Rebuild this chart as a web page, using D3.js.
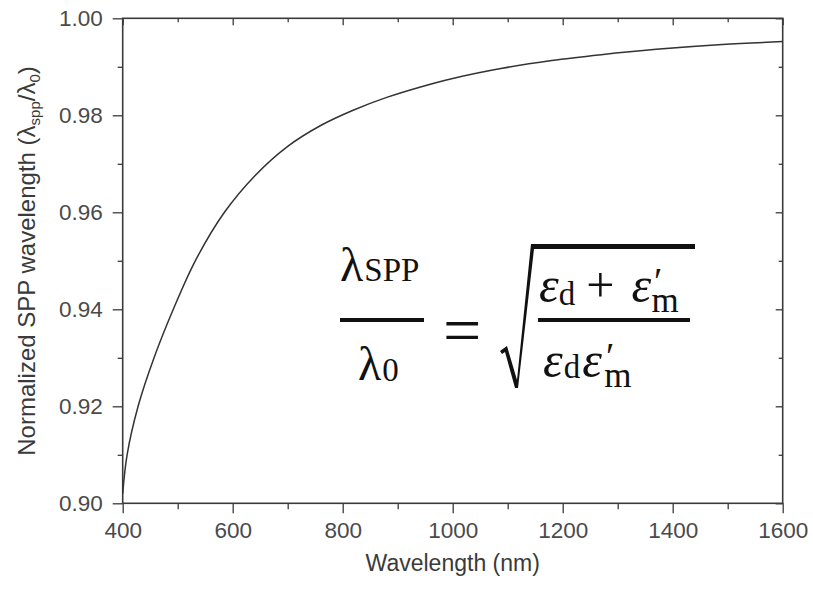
<!DOCTYPE html>
<html>
<head>
<meta charset="utf-8">
<script src="https://cdn.jsdelivr.net/npm/d3@7"></script>
<style>
  body { margin: 0; background: #fff; }
  svg { display: block; }
</style>
</head>
<body>
<div id="chart"></div>
<script>
(function() {
  'use strict';

  // points
  var wavelengths = [400, 408, 428, 457, 492, 532, 585, 640, 700, 760, 820, 880,
                     940, 1000, 1090, 1180, 1270, 1370, 1490, 1600];
  var ratios = [0.902, 0.910, 0.920, 0.930, 0.940, 0.950, 0.960, 0.9675, 0.9736,
                0.9779, 0.9811, 0.9837, 0.9858, 0.9876, 0.9897, 0.9913, 0.9925,
                0.9936, 0.9946, 0.9952];

  var xMajor = [400, 600, 800, 1000, 1200, 1400, 1600];
  var xMinor = [500, 700, 900, 1100, 1300, 1500];
  var yMajor = [0.90, 0.92, 0.94, 0.96, 0.98, 1.00];
  var yMinor = [0.91, 0.93, 0.95, 0.97, 0.99];

  var width = 813, height = 590;
  var margin = {top: 18.3, right: 30.3, bottom: 86.7, left: 122.7};
  var w = width - margin.left - margin.right;
  var h = height - margin.top - margin.bottom;

  var svg = d3.select('#chart')
      .append('svg')
    .attr('width', width)
    .attr('height', height);

  var g = svg.append('g')
    .attr('transform', 'translate(' + margin.left + ',' + margin.top + ')');

  var x = d3.scaleLinear().domain([400, 1600]).range([0, w]);
  var y = d3.scaleLinear().domain([0.90, 1.00]).range([h, 0]);

  var axisColor = '#3a3a3a';
  var labelColor = '#4a4a4a';
  var fontFamily = '"Liberation Sans", Arial, Helvetica, sans-serif';

  function styleAxis(sel) {
    sel.select('.domain').remove();
    sel.selectAll('.tick line').attr('stroke', axisColor).attr('stroke-width', 1.3);
    sel.selectAll('.tick text')
      .attr('fill', labelColor)
      .style('font-family', fontFamily)
      .style('font-size', '22.5px');
  }

  // bottom axis, outward ticks
  g.append('g')
    .attr('transform', 'translate(0,' + h + ')')
    .call(d3.axisBottom(x).tickValues(xMajor).tickSize(10).tickPadding(9)
      .tickFormat(d3.format('d')))
    .call(styleAxis);
  g.append('g')
    .attr('transform', 'translate(0,' + h + ')')
    .call(d3.axisBottom(x).tickValues(xMinor).tickSize(6).tickFormat(''))
    .call(styleAxis);

  // left axis
  g.append('g')
    .call(d3.axisLeft(y).tickValues(yMajor).tickSize(10).tickPadding(10)
      .tickFormat(d3.format('.2f')))
    .call(styleAxis);
  g.append('g')
    .call(d3.axisLeft(y).tickValues(yMinor).tickSize(5).tickFormat(''))
    .call(styleAxis);

  // top and right mirror ticks pointing inward
  g.append('g')
    .call(d3.axisBottom(x).tickValues(xMajor).tickSize(7).tickFormat(''))
    .call(styleAxis);
  g.append('g')
    .call(d3.axisBottom(x).tickValues(xMinor).tickSize(4).tickFormat(''))
    .call(styleAxis);
  g.append('g')
    .attr('transform', 'translate(' + w + ',0)')
    .call(d3.axisLeft(y).tickValues(yMajor).tickSize(7).tickFormat(''))
    .call(styleAxis);
  g.append('g')
    .attr('transform', 'translate(' + w + ',0)')
    .call(d3.axisLeft(y).tickValues(yMinor).tickSize(4).tickFormat(''))
    .call(styleAxis);

  // frame
  g.append('rect')
    .attr('width', w)
    .attr('height', h)
    .attr('fill', 'none')
    .attr('stroke', axisColor)
    .attr('stroke-width', 1.6);

  // curve
  var line = d3.line()
    .x(function(d) { return x(d[0]); })
    .y(function(d) { return y(d[1]); })
    .curve(d3.curveCatmullRom.alpha(0.5));

  g.append('path')
    .datum(d3.zip(wavelengths, ratios))
    .attr('fill', 'none')
    .attr('stroke', '#333')
    .attr('stroke-width', 1.5)
    .attr('d', line);

  // axis titles
  svg.append('text')
    .attr('x', margin.left + w / 2)
    .attr('y', 571)
    .attr('text-anchor', 'middle')
    .attr('fill', '#3a3a3a')
    .style('font-family', fontFamily)
    .style('font-size', '23px')
    .text('Wavelength (nm)');

  var yt = svg.append('text')
    .attr('transform', 'translate(35,' + 261 + ') rotate(-90)')
    .attr('text-anchor', 'middle')
    .attr('fill', '#3a3a3a')
    .style('font-family', fontFamily)
    .style('font-size', '24px');
  yt.append('tspan').text('Normalized SPP wavelength (λ');
  yt.append('tspan').attr('dy', 5).style('font-size', '15px').text('spp');
  yt.append('tspan').attr('dy', -5).text('/λ');
  yt.append('tspan').attr('dy', 5).style('font-size', '15px').text('0');
  yt.append('tspan').attr('dy', -5).text(')');

  // formula
  var serif = '"Liberation Serif", "Times New Roman", serif';
  var f = svg.append('g')
    .attr('fill', '#111')
    .style('font-family', serif);

  var num = f.append('text').attr('x', 340).attr('y', 281).style('font-size', '48px');
  num.append('tspan').text('λ');
  num.append('tspan').attr('dx', 1).style('font-size', '33px').text('SPP');

  var den = f.append('text').attr('x', 358).attr('y', 380).style('font-size', '48px');
  den.append('tspan').text('λ');
  den.append('tspan').attr('dx', 1).attr('dy', 1).style('font-size', '33px').text('0');

  f.append('text').attr('x', 443).attr('y', 353)
    .style('font-size', '68px').text('=');

  var rn = f.append('text').attr('x', 539).attr('y', 302).style('font-size', '50px');
  rn.append('tspan').style('font-style', 'italic').text('ε');
  rn.append('tspan').attr('dy', 3).style('font-size', '33px').text('d');
  rn.append('tspan').attr('dx', 11).attr('dy', -3).text('+');
  rn.append('tspan').attr('dx', 17).style('font-style', 'italic').text('ε');
  rn.append('tspan').attr('dx', 3).attr('dy', -8).style('font-size', '38px').text('′');
  rn.append('tspan').attr('dx', -11).attr('dy', 18).style('font-size', '35px').text('m');

  var rd = f.append('text').attr('x', 543).attr('y', 377).style('font-size', '50px');
  rd.append('tspan').style('font-style', 'italic').text('ε');
  rd.append('tspan').attr('dx', 1).attr('dy', 1).style('font-size', '33px').text('d');
  rd.append('tspan').attr('dx', 2).attr('dy', -1).style('font-style', 'italic').text('ε');
  rd.append('tspan').attr('dx', 4).attr('dy', -8).style('font-size', '38px').text('′');
  rd.append('tspan').attr('dx', -10).attr('dy', 18).style('font-size', '35px').text('m');

  // fraction bars and radical
  f.append('rect').attr('x', 340).attr('y', 318).attr('width', 84).attr('height', 4);
  f.append('rect').attr('x', 538).attr('y', 318).attr('width', 152).attr('height', 4);
  f.append('path')
    .attr('d', 'M500,351 L507,346 L517,380 L531,244 L695,244 L695,249 L534,249 L518,388 L515,388 L505,352 L502,354 Z');
})();
</script>
</body>
</html>
